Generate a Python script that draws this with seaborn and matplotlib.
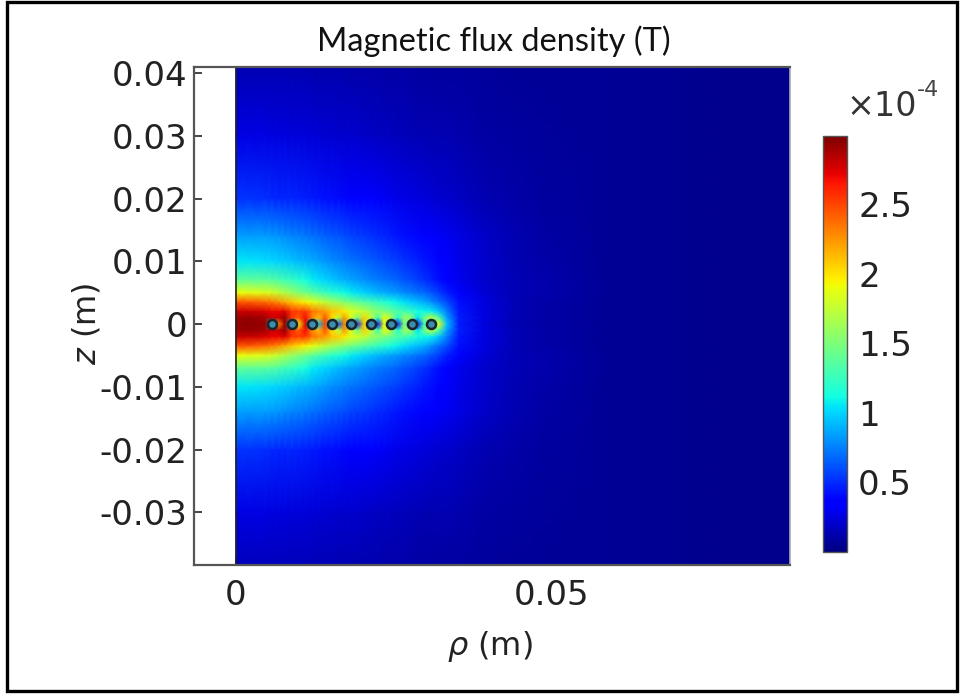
import numpy as np
import matplotlib
matplotlib.use('Agg')
import matplotlib.pyplot as plt
from matplotlib.patches import Rectangle
import seaborn as sns

# radial and axial sample positions (mm), field in 1e-4 T
rho_mm = [0, 2, 4.6, 5.7, 6.8, 7.75, 8.8, 9.9, 11, 12.05, 13.15, 14.1, 15.2, 16.3, 17.15, 18.15, 19.2, 20.3, 21.4,
          22.5, 23.45, 24.5, 25.6, 26.6, 27.65, 28.75, 29.8, 30.9, 32.1, 33.35, 35.3, 39.2, 44.1, 49, 58.9, 68.7, 78.5, 88.3]
z_mm = [41, 30, 20, 14, 10, 7, 5, 3.5, 2, 1, 0]
field_upper = [
    [.13, .13, .13, .13, .13, .13, .13, .13, .13, .12, .12, .12, .12, .12, .12, .11, .11, .11, .11, .11, .10, .10, .10, .10, .10, .09, .09, .09, .09, .09, .09, .08, .07, .07, .06, .05, .04, .04],
    [.26, .26, .26, .25, .25, .25, .24, .24, .24, .23, .23, .22, .22, .21, .21, .20, .20, .19, .18, .18, .17, .17, .16, .16, .15, .15, .14, .14, .13, .13, .12, .10, .09, .08, .06, .05, .04, .04],
    [.52, .52, .51, .50, .49, .49, .48, .47, .46, .45, .44, .42, .41, .40, .39, .38, .37, .35, .34, .32, .31, .30, .28, .27, .26, .25, .24, .23, .21, .20, .18, .14, .11, .09, .07, .05, .04, .04],
    [.85, .84, .83, .82, .81, .79, .77, .75, .73, .71, .68, .66, .64, .62, .60, .58, .56, .54, .52, .50, .48, .46, .44, .42, .40, .39, .37, .35, .32, .30, .26, .19, .14, .10, .07, .05, .04, .04],
    [1.05, 1.04, 1.02, 1.01, .99, .97, .95, .92, .90, .88, .85, .82, .79, .76, .74, .72, .69, .67, .65, .62, .60, .58, .55, .52, .50, .47, .44, .41, .37, .33, .27, .20, .14, .11, .07, .05, .04, .04],
    [1.4, 1.39, 1.38, 1.36, 1.33, 1.28, 1.24, 1.19, 1.14, 1.07, 1.03, 1.00, .96, .92, .89, .86, .83, .80, .77, .74, .72, .69, .66, .63, .60, .56, .52, .47, .42, .37, .29, .21, .15, .12, .07, .05, .04, .04],
    [1.9, 1.88, 1.84, 1.80, 1.74, 1.68, 1.60, 1.52, 1.45, 1.38, 1.31, 1.25, 1.2, 1.15, 1.11, 1.07, 1.03, .99, .95, .91, .88, .85, .82, .78, .75, .71, .68, .63, .55, .46, .33, .23, .15, .12, .07, .05, .04, .04],
    [2.45, 2.43, 2.38, 2.33, 2.26, 2.18, 2.1, 2.02, 1.95, 1.88, 1.8, 1.72, 1.65, 1.58, 1.53, 1.47, 1.41, 1.35, 1.29, 1.23, 1.18, 1.13, 1.08, 1.03, .98, .93, .88, .8, .7, .6, .42, .25, .15, .11, .06, .05, .04, .04],
    [2.8, 2.8, 2.76, 2.7, 2.7, 2.75, 2.55, 2.52, 2.55, 2.35, 2.28, 2.24, 2.1, 2.05, 1.98, 1.85, 1.8, 1.75, 1.62, 1.55, 1.5, 1.42, 1.34, 1.3, 1.24, 1.14, 1.1, 1.08, .95, .75, .44, .25, .15, .11, .06, .05, .04, .04],
    [2.9, 2.92, 2.89, 2.78, 2.82, 2.93, 2.55, 2.42, 2.68, 2.28, 2.12, 2.45, 2.02, 1.7, 2.25, 1.85, 1.45, 2.05, 1.75, 1.25, 1.9, 1.7, 1.15, 1.6, 1.6, 1.05, 1.45, 1.75, 1.35, .85, .46, .25, .15, .11, .06, .05, .04, .04],
    [2.93, 2.95, 2.92, 1, 2.3, 2.95, 1, 1.9, 2.75, 1, .9, 2.5, 1, .6, 2.3, 1, .45, 2.05, 1, .4, 1.9, 1, .42, 1.5, 1, .4, 1.3, 1, 1.9, .95, .45, .24, .14, .10, .06, .05, .04, .04],
]
coil_rho = [0.0057, 0.0088, 0.0121, 0.0152, 0.0182, 0.0214, 0.0246, 0.0278, 0.0309]
coil_z = [0, 0, 0, 0, 0, 0, 0, 0, 0]

x_ticks = [0, 0.05]
x_tick_labels = ['0', '0.05']
y_ticks = [0.04, 0.03, 0.02, 0.01, 0, -0.01, -0.02, -0.03]
y_tick_labels = ['0.04', '0.03', '0.02', '0.01', '0', '-0.01', '-0.02', '-0.03']
cbar_ticks = [0.5, 1, 1.5, 2, 2.5]
cbar_tick_labels = ['0.5', '1', '1.5', '2', '2.5']

sns.set_theme(style='white')
plt.rcParams['font.family'] = ['DejaVu Sans']
plt.rcParams['axes.unicode_minus'] = False
plt.rcParams['mathtext.fontset'] = 'dejavusans'

W, H = 962, 694
fig = plt.figure(figsize=(W / 100, H / 100), dpi=100)
ax = fig.add_axes([194 / W, 1 - 565 / H, 596 / W, 498 / H])
cax = fig.add_axes([823 / W, 1 - 552 / H, 24 / W, 416 / H])

# the field is mirror symmetric about z = 0, only the upper half was read
rho = np.array(rho_mm) / 1000
z_upper = np.array(z_mm) / 1000
z = np.concatenate([z_upper, -z_upper[-2::-1]])
upper = np.array(field_upper)
field = np.vstack([upper, upper[-2::-1]])

mesh = ax.pcolormesh(rho, z, field, shading='gouraud', cmap='jet', vmin=0, vmax=2.99)
ax.axvline(0, color='#222222', lw=1.2)
sns.scatterplot(x=coil_rho, y=coil_z, ax=ax, s=42, color='#3a8fb0', edgecolor='#1c2428', linewidth=1.8,
                zorder=5, legend=False)

ax.set_xlim(-0.00665, 0.0877)
ax.set_ylim(-0.0384, 0.0410)
ax.set_xticks(x_ticks, x_tick_labels)
ax.set_yticks(y_ticks, y_tick_labels)
ax.tick_params(axis='both', direction='in', length=6, width=1.4, color='#444444', labelsize=24.5,
               labelcolor='#222222', bottom=True, left=True, right=True)
ax.tick_params(axis='x', pad=10)
ax.tick_params(axis='y', pad=5)
for s in ['left', 'bottom', 'top']:
    ax.spines[s].set_color('#555555')
    ax.spines[s].set_linewidth(1.6)
ax.spines['right'].set_color('#aaaaaa')
ax.spines['right'].set_linewidth(1.2)

fig.text(494 / W, 1 - 41 / H, 'Magnetic flux density (T)', family='Lato', fontsize=23.5, color='#111111',
         ha='center', va='center')
fig.text(490 / W, 1 - 647 / H, r'$\rho$ (m)', fontsize=23, color='#222222', ha='center', va='center')
fig.text(86 / W, 1 - 324 / H, r'$z$ (m)', fontsize=23, color='#222222', ha='center', va='center', rotation=90)

cb = fig.colorbar(mesh, cax=cax)
cb.set_ticks(cbar_ticks, labels=cbar_tick_labels)
cax.tick_params(axis='y', direction='in', length=3, width=1.2, color='#333333', left=True, right=True,
                labelsize=24.5, labelcolor='#222222', pad=8)
cb.outline.set_edgecolor('#555555')
cb.outline.set_linewidth(1)
fig.text(846 / W, 1 - 106 / H, '×10', fontsize=24, color='#333333', ha='left', va='center')
fig.text(917 / W, 1 - 90 / H, '-4', fontsize=16, color='#444444', ha='left', va='center')

fig.add_artist(Rectangle((7 / W, 1 - 691 / H), 950 / W, 689 / H, transform=fig.transFigure, fill=False,
                         edgecolor='black', linewidth=2.4))

fig.savefig('out.png', dpi=100, facecolor='white')
